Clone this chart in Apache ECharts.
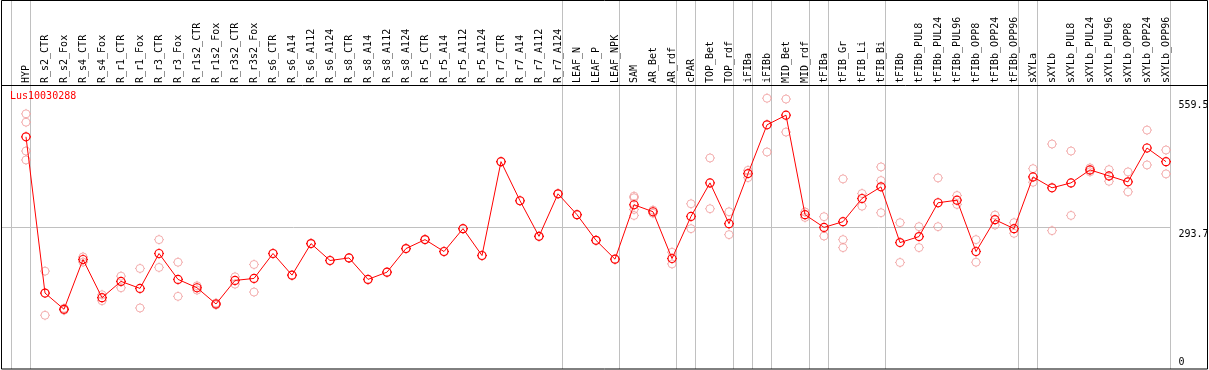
<!DOCTYPE html>
<html>
<head>
<meta charset="utf-8">
<script src="https://cdn.jsdelivr.net/npm/echarts@6/dist/echarts.min.js"></script>
<style>
html,body{margin:0;padding:0;background:#fff;}
#chart{width:1209px;height:370px;}
</style>
</head>
<body>
<div id="chart"></div>
<script>
const chartTitle = 'Lus10030288';
const categories = ['HYP','R_s2_CTR','R_s2_Fox','R_s4_CTR','R_s4_Fox','R_r1_CTR','R_r1_Fox','R_r3_CTR','R_r3_Fox','R_r1s2_CTR','R_r1s2_Fox','R_r3s2_CTR','R_r3s2_Fox','R_s6_CTR','R_s6_A14','R_s6_A112','R_s6_A124','R_s8_CTR','R_s8_A14','R_s8_A112','R_s8_A124','R_r5_CTR','R_r5_A14','R_r5_A112','R_r5_A124','R_r7_CTR','R_r7_A14','R_r7_A112','R_r7_A124','LEAF_N','LEAF_P','LEAF_NPK','SAM','AR_Bet','AR_rdf','cPAR','TOP_Bet','TOP_rdf','iFIBa','iFIBb','MID_Bet','MID_rdf','tFIBa','tFIB_Gr','tFIB_Li','tFIB_Bi','tFIBb','tFIBb_PUL8','tFIBb_PUL24','tFIBb_PUL96','tFIBb_OPP8','tFIBb_OPP24','tFIBb_OPP96','sXYLa','sXYLb','sXYLb_PUL8','sXYLb_PUL24','sXYLb_PUL96','sXYLb_OPP8','sXYLb_OPP24','sXYLb_OPP96'];
const meanValues = [480.1,158.4,125.0,227.5,148.8,182.4,168.0,239.8,186.5,169.3,135.9,184.4,188.5,239.8,195.3,260.2,225.4,230.7,186.5,201.4,250.0,268.4,243.9,291.0,235.7,428.9,348.4,275.2,362.7,319.7,267.0,228.1,340.2,325.8,229.5,316.2,385.2,301.2,404.3,504.7,524.6,319.7,293.6,305.3,353.1,377.0,262.3,274.6,344.3,349.6,243.9,309.4,291.0,397.5,375.0,385.2,411.9,399.6,387.3,457.0,428.9];
const replicateValues = [
 [527.3,510.2,450.8,432.4],[203.5,112.7],[123.0,127.0],[232.8,222.2],[154.9,142.6],
 [193.2,169.3],[209.0,127.7],[268.4,211.1],[221.9,151.6],[173.4,164.5],
 [134.0,138.0],[191.8,176.8],[217.2,160.5],[239.8],[195.3],
 [260.2],[225.4],[230.7],[186.5],[201.4],
 [250.0],[268.4],[243.9],[291.0],[235.7],
 [428.9],[348.4],[275.2],[362.7],[319.7],
 [267.0],[228.1],[357.8,354.5,330.5,318.2],[329.0,322.6],[242.4,218.4],
 [342.2,291.0],[436.5,332.0],[325.8,278.7],[411.1,396.1],[559.5,448.8],
 [557.8,489.8],[314.1,325.3],[315.6,275.8],[393.4,268.4,252.0],[363.3,337.3],
 [418.0,390.0,323.8],[303.3,221.3],[295.1,252.0],[395.5,295.1],[359.2,340.8],
 [268.4,221.9],[318.9,298.4],[303.3,281.4],[414.5,386.5],[465.2,286.9],
 [450.8,318.2],[416.0,408.0],[412.5,388.5],[407.8,366.8],[493.9,422.1],
 [452.9,403.7]
];
const yTickLabels = [559.5, 293.7, 0];
const referenceLineValue = 293.7;
const groupSeparatorsAfter = [-1,0,28,31,34,35,37,38,39,41,42,45,52,53,60];

const repData = [];
replicateValues.forEach((arr, i) => arr.forEach(v => repData.push([i, v])));

const FONT = 'DejaVu Sans Mono';
const markerPath = 'path://M1,5a4,4 0 1,0 8,0a4,4 0 1,0 -8,0M5,0V1M5,9V10M0,5H1M9,5H10';

const chart = echarts.init(document.getElementById('chart'), null, {renderer:'canvas'});
chart.setOption({
  animation: false,
  grid: {left: 16.5, top: 85, width: 1159, height: 286.3},
  xAxis: {
    type: 'category', data: categories, position: 'top', boundaryGap: true,
    axisLine: {show: false}, axisTick: {show: false}, splitLine: {show: false},
    axisLabel: {interval: 0, rotate: 90, margin: 2, fontFamily: FONT, fontSize: 10, color: '#000'}
  },
  yAxis: {type: 'value', min: 0, max: 586.7, show: false},
  series: [
    {
      type: 'scatter', data: repData, symbol: markerPath, symbolSize: 10, z: 2,
      itemStyle: {color: 'rgba(0,0,0,0)', borderColor: '#f09c9c', borderWidth: 1}
    },
    {
      type: 'line', data: meanValues, symbol: markerPath, symbolSize: 10, z: 3,
      showAllSymbol: true,
      lineStyle: {color: '#ff0000', width: 1},
      itemStyle: {color: 'rgba(0,0,0,0)', borderColor: '#ff0000', borderWidth: 1.2}
    }
  ]
});

const p0 = chart.convertToPixel({gridIndex: 0}, [0, 0]);
const p1 = chart.convertToPixel({gridIndex: 0}, [1, 0]);
const step = p1[0] - p0[0];
const sepX = i => Math.round(p0[0] + i * step + step * 0.23) + 0.5;
const yPix = v => chart.convertToPixel({gridIndex: 0}, [0, v])[1];

const graphics = [];
groupSeparatorsAfter.forEach(i => {
  graphics.push({type: 'line', silent: true, z: 1,
    shape: {x1: sepX(i), y1: 0, x2: sepX(i), y2: 369},
    style: {stroke: '#c0c0c0', lineWidth: 1}});
});
const refY = Math.round(yPix(referenceLineValue)) + 0.5;
graphics.push({type: 'line', silent: true, z: 1,
  shape: {x1: 1, y1: refY, x2: sepX(60), y2: refY},
  style: {stroke: '#c0c0c0', lineWidth: 1}});
graphics.push({type: 'rect', silent: true, z: 10,
  shape: {x: 1.5, y: 0.5, width: 1206, height: 368.5},
  style: {fill: 'none', stroke: '#000', lineWidth: 1}});
graphics.push({type: 'line', silent: true, z: 10,
  shape: {x1: 1, y1: 85.5, x2: 1207, y2: 85.5},
  style: {stroke: '#000', lineWidth: 1}});
yTickLabels.forEach((v, k) => {
  const last = k === yTickLabels.length - 1;
  graphics.push({type: 'text', silent: true, z: 11,
    x: sepX(60) + 8, y: last ? yPix(v) - 3 : yPix(v) + 2,
    style: {text: String(v), font: '10px ' + FONT, fill: '#000',
      textVerticalAlign: last ? 'bottom' : 'top', textAlign: 'left'}});
});
graphics.push({type: 'text', silent: true, z: 11, x: 10, y: 91,
  style: {text: chartTitle, font: '10px ' + FONT, fill: '#ff0000', textVerticalAlign: 'top'}});
chart.setOption({graphic: graphics});
</script>
</body>
</html>
